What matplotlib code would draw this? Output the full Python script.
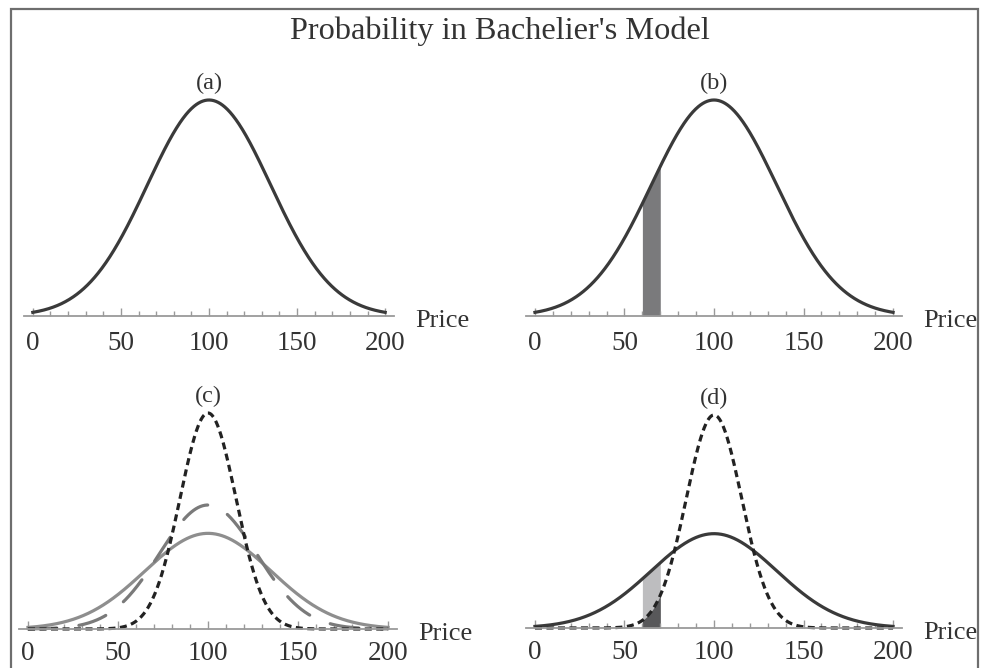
import numpy as np
import matplotlib
matplotlib.use("Agg")
import matplotlib.pyplot as plt
from matplotlib.patches import Rectangle

plt.rcParams['font.family'] = ['Liberation Serif', 'DejaVu Serif']

# curve parameters (mean price, spread)
mean_price = 100
sigma_wide = 35      # solid curves
sigma_mid = 27       # long-dashed curve in (c)
sigma_narrow = 15.5  # dotted curves in (c) and (d)
band = [60, 70]      # shaded price interval in (b) and (d)

tick_major = [0, 50, 100, 150, 200]
tick_minor = list(range(0, 201, 10))
panel_names = ['(a)', '(b)', '(c)', '(d)']

x = np.linspace(0, 200, 801)


def density(xx, s):
    return np.exp(-(xx - mean_price) ** 2 / (2 * s ** 2)) / (s * np.sqrt(2 * np.pi))


fig = plt.figure(figsize=(9.81, 6.68), dpi=100)
fig.text(0.51, 0.953, "Probability in Bachelier's Model", ha='center', va='center',
         fontsize=23.3, color='#333333')

# pixel boxes: left, right, baseline, top, tick label pad
boxes = [(24, 394, 316, 100, 11), (526, 902, 316, 100, 11),
         (19, 397, 629, 413, 8.5), (526, 902, 628, 415, 8.5)]
W, H = 981, 668
axes = []
for (l, r, b, t, pad), name in zip(boxes, panel_names):
    ax = fig.add_axes([l / W, 1 - b / H, (r - l) / W, (b - t) / H])
    ax.set_xlim(-5, 205)
    for s in ['left', 'right', 'top']:
        ax.spines[s].set_visible(False)
    ax.spines['bottom'].set_color('#9a9a9a')
    ax.spines['bottom'].set_linewidth(1.3)
    ax.set_yticks([])
    ax.set_xticks(tick_major)
    ax.set_xticks(tick_minor, minor=True)
    ax.tick_params(axis='x', which='major', direction='in', length=6, width=1,
                   color='#9a9a9a', pad=pad, labelsize=19.5, labelcolor='#333333')
    ax.tick_params(axis='x', which='minor', direction='in', length=3.5, width=1,
                   color='#9a9a9a')
    ax.annotate('Price', xy=(217, 0), xytext=(0, -5), textcoords='offset pixels',
                ha='left', va='center', fontsize=19, color='#333333',
                annotation_clip=False)
    ax.set_title(name, fontsize=17.5, color='#333333', pad=8)
    ax.patch.set_alpha(0)
    axes.append(ax)

ax_a, ax_b, ax_c, ax_d = axes
y_wide = density(x, sigma_wide)
y_mid = density(x, sigma_mid)
y_narrow = density(x, sigma_narrow)

# (a)
ax_a.plot(x, y_wide, color='#3a3a3a', lw=2.3, clip_on=False)
ax_a.set_ylim(0, y_wide.max())

# (b)
xb = np.linspace(band[0], band[1], 50)
ax_b.fill_between(xb, 0, density(xb, sigma_wide), color='#7a7a7c', lw=0)
ax_b.plot(x, y_wide, color='#3a3a3a', lw=2.3, clip_on=False)
ax_b.set_ylim(0, y_wide.max())

# (c)
ax_c.plot(x, y_wide, color='#8e8e8e', lw=2.3, clip_on=False)
ax_c.plot(x, y_mid, color='#7a7a7a', lw=2.3, dashes=(9, 7), dash_capstyle='round',
          clip_on=False)
ax_c.plot(x, y_narrow, color='#222222', lw=2.3, dashes=(2.2, 1.4), clip_on=False)
ax_c.set_ylim(0, y_narrow.max())

# (d)
ax_d.fill_between(xb, 0, density(xb, sigma_wide), color='#bdbdbf', lw=0)
ax_d.fill_between(xb, 0, density(xb, sigma_narrow), color='#58585a', lw=0)
ax_d.plot(x, y_wide, color='#3a3a3a', lw=2.3, clip_on=False)
ax_d.plot(x, y_narrow, color='#222222', lw=2.3, dashes=(2.2, 1.4), clip_on=False)
ax_d.set_ylim(0, y_narrow.max())

# outer frame
fig.patches.append(Rectangle((11 / W, -0.01), 967 / W, 1 - 9 / H + 0.01,
                             transform=fig.transFigure, fill=False,
                             edgecolor='#6e6e6e', lw=1.6))

fig.savefig('out.png', dpi=100)
